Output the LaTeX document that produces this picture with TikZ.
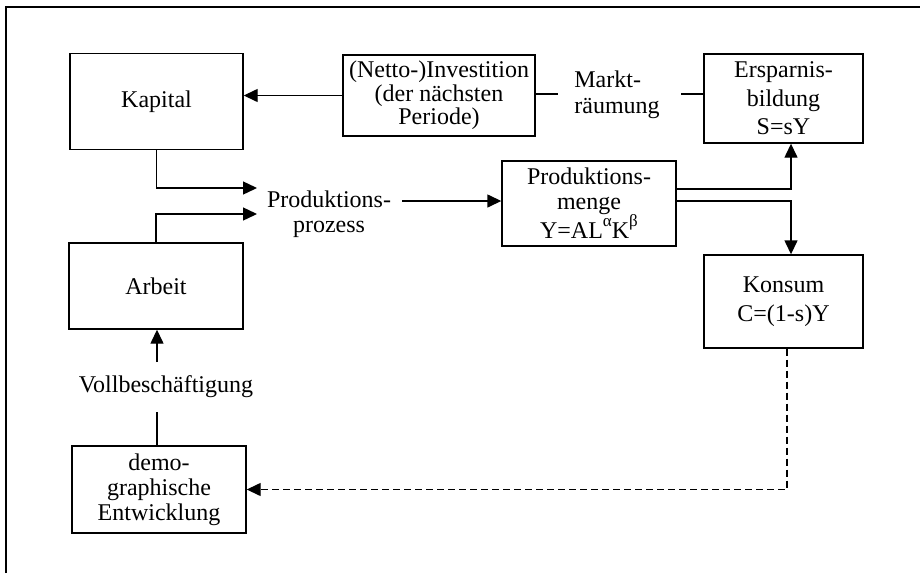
\documentclass[tikz,border=0pt]{standalone}
\usepackage{fontspec}
\setmainfont{Liberation Serif}
\usetikzlibrary{arrows.meta,calc}
\begin{document}
\begin{tikzpicture}[x=1pt,y=-1pt,
 txt/.style={inner sep=0pt,align=center,font=\fontsize{24}{26}\selectfont},
 box/.style={txt,draw,line width=1.4pt,rectangle},
 conn/.style={line width=1.4pt},
 arr/.style={conn,-{Triangle[length=14pt,width=13pt]}},
 darr/.style={arr,dash pattern=on 7pt off 4pt}]
\useasboundingbox (0,0) rectangle (920,573);
\draw[line width=1.8pt] (6,573) -- (6,7) -- (920,7);
% boxes
\node[box,minimum width=173pt,minimum height=96pt] (kap) at (156.5,101.5) {Kapital};
\node[box,minimum width=192pt,minimum height=81pt] (inv) at (439,95.5) {(Netto-)Investition\\[-2.5pt](der nächsten\\[-2.5pt]Periode)};
\node[box,minimum width=159pt,minimum height=89pt] (ers) at (783.5,98.5) {Ersparnis-\\[2.5pt]bildung\\[2.5pt]S=sY};
\node[box,minimum width=174pt,minimum height=85pt] (pm) at (589,203.5) {Produktions-\\[-1pt]menge\\[-1pt]Y=AL\raisebox{1.1ex}{\fontsize{17}{17}\selectfont α}K\raisebox{1.1ex}{\fontsize{17}{17}\selectfont β}};
\node[box,minimum width=159pt,minimum height=93pt] (kon) at (783.5,301.5) {Konsum\\[3pt]C=(1-s)Y};
\node[box,minimum width=174pt,minimum height=86pt] (arb) at (156,286) {Arbeit};
\node[box,minimum width=174pt,minimum height=87pt] (dem) at (159,489.5) {demo-\\[-1pt]graphische\\[-1pt]Entwicklung};
% labels
\node[txt] (proz) at (329,214) {Produktions-\\[-1pt]prozess};
\node[txt,align=left] (markt) at (617,95) {Markt-\\räumung};
\node[txt] (voll) at (166,387) {Vollbeschäftigung};
% helper coordinates
\coordinate (t1) at (257,188);
\coordinate (t2) at (257,214);
\coordinate (p0) at (402,201);
\coordinate (o1) at (676,189);
\coordinate (o2) at (676,201);
\coordinate (col) at (791,0);
\coordinate (dcol) at (787,0);
\coordinate (v1) at (157,362);
\coordinate (m1) at (558,94);
\coordinate (m2) at (681,94);
% connectors
\draw[arr] (inv.west) -- (inv.west -| kap.east);
\draw[conn] (inv.east |- m1) -- (m1);
\draw[conn] (m2) -- (ers.west |- m2);
\draw[arr] (kap.south) |- (t1);
\draw[arr] (arb.north) |- (t2);
\draw[arr] (p0) -- (p0 -| pm.west);
\draw[arr] (pm.east |- o1) -| (col |- ers.south);
\draw[arr] (pm.east |- o2) -| (col |- kon.north);
\draw[darr] (kon.south -| dcol) |- (dem.east);
\draw[arr] (v1) -- (v1 |- arb.south);
\draw[conn] (dem.north -| v1) -- ++(0,-33);
\end{tikzpicture}
\end{document}
